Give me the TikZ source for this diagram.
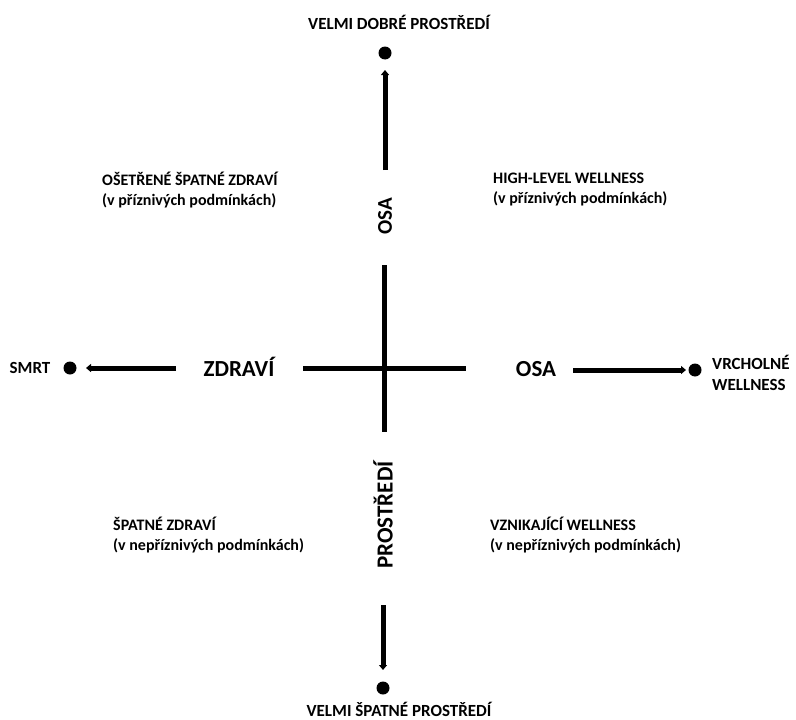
\documentclass[tikz,border=0pt]{standalone}
\usepackage{fontspec}
\setmainfont{Carlito}
\usetikzlibrary{arrows.meta}
\begin{document}
\begin{tikzpicture}[x=1pt,y=-1pt,
  axisline/.style={line width=5pt},
  arr/.style={line width=5pt,-{Triangle[length=5pt,width=8pt]}},
  dot/.style={circle,fill=black,inner sep=0pt,minimum size=13pt},
  small/.style={font=\bfseries\fontsize{17}{21}\selectfont,inner sep=0pt,align=left},
  quad/.style={font=\bfseries\fontsize{16}{20}\selectfont,inner sep=0pt,align=left,anchor=west},
  big/.style={font=\bfseries\fontsize{23}{26}\selectfont,inner sep=0pt},
  vlab/.style={font=\bfseries\fontsize{21}{24}\selectfont,inner sep=0pt,rotate=90}]
\useasboundingbox (0,0) rectangle (796,720);
% top
\node[small] (top) at (399,22) {VELMI DOBRÉ PROSTŘEDÍ};
\node[dot] (dtop) at (385,53) {};
\coordinate (tA) at (385,170);
\coordinate (tB) at (385,70);
\draw[arr] (tA) -- (tB);
\node[vlab] (osav) at (385,216) {OSA};
% vertical axis
\coordinate (v1) at (384,265);
\coordinate (v2) at (384,432);
\draw[axisline] (v1) -- (v2);
\node[vlab,font=\bfseries\fontsize{23}{26}\selectfont] (prost) at (383,515) {PROSTŘEDÍ};
\coordinate (bA) at (383,605);
\coordinate (bB) at (383,670);
\draw[arr] (bA) -- (bB);
\node[dot] (dbot) at (383,688) {};
\node[small,anchor=base] (bot) at (399,716) {VELMI ŠPATNÉ PROSTŘEDÍ};
% horizontal
\node[small] (smrt) at (30,368) {SMRT};
\node[dot] (dleft) at (70,368) {};
\coordinate (lA) at (176,368);
\coordinate (lB) at (86,368);
\draw[arr] (lA) -- (lB);
\node[big] (zdravi) at (239,367) {ZDRAVÍ};
\coordinate (h1) at (303,368);
\coordinate (h2) at (466,368);
\draw[axisline] (h1) -- (h2);
\node[big] (osah) at (536,369) {OSA};
\coordinate (rA) at (573,370);
\coordinate (rB) at (686,370);
\draw[arr] (rA) -- (rB);
\node[dot] (dright) at (695,370) {};
\node[small,anchor=west] (vrch) at (712,373) {VRCHOLNÉ\\WELLNESS};
% quadrants
\node[quad] (q1) at (102,190) {OŠETŘENÉ ŠPATNÉ ZDRAVÍ\\(v příznivých podmínkách)};
\node[quad] (q2) at (493,190) {HIGH-LEVEL WELLNESS\\(v příznivých podmínkách)};
\node[quad] (q3) at (113,535) {ŠPATNÉ ZDRAVÍ\\(v nepříznivých podmínkách)};
\node[quad] (q4) at (490,535) {VZNIKAJÍCÍ WELLNESS\\(v nepříznivých podmínkách)};
\end{tikzpicture}
\end{document}
